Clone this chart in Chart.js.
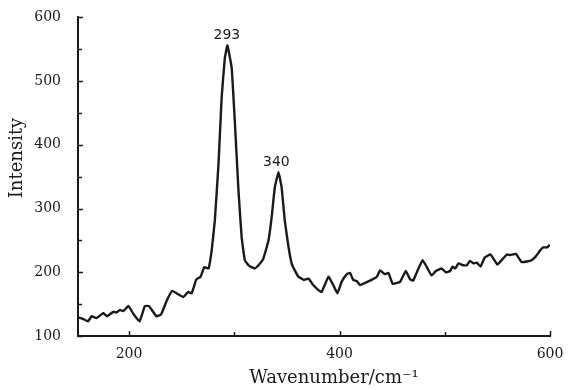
<!DOCTYPE html>
<html>
<head>
<meta charset="utf-8">
<script src="https://cdn.jsdelivr.net/npm/chart.js@4.4.1/dist/chart.umd.min.js"></script>
<style>
  html, body { margin: 0; padding: 0; background: #fff; }
  #wrap { width: 568px; height: 390px; }
</style>
</head>
<body>
<div id="wrap"><canvas id="ramanChart" width="568" height="390"></canvas></div>
<script>
// Raman spectrum
const wavenumbers = [
  151.5, 156, 161, 164.5, 169, 175.5, 179, 185, 188, 191.5, 194.5, 199.5,
  204, 210, 215, 219, 226, 230.5, 236, 241, 247, 251.5, 256, 259.5,
  264, 268, 271.5, 275.5, 278.5, 281.5, 285, 288, 291, 293.5, 297.5, 300.5,
  304, 307, 310, 313.5, 316.5, 319.5, 323, 327.5, 332.5, 335.5, 338.5, 342,
  345, 348, 351.5, 354.5, 357.5, 361, 364, 366, 370.5, 375, 380, 383,
  389.5, 394, 398, 402, 407, 410, 413, 416.5, 419.5, 424, 430.5, 435.5,
  438.5, 443, 446.5, 450.5, 457.5, 463, 467, 470, 475, 479, 483, 487.5,
  491.5, 497, 501, 505, 507.5, 510, 513, 517.5, 521, 524, 527, 530.5,
  534, 538, 543.5, 550, 554, 559, 562, 567.5, 573, 578, 582.5, 586.5,
  590.5, 593.5, 597, 600
];
const intensity = [
  129, 127, 123, 131, 128, 136, 131, 138, 137, 141, 139, 147,
  135, 123, 147, 147, 131, 134, 156, 171, 165, 161, 169, 167,
  189, 193, 208, 206, 234, 281, 370, 474, 536, 556, 521, 437,
  328, 255, 219, 211, 208, 206, 211, 221, 250, 286, 333, 357,
  333, 281, 240, 214, 203, 193, 190, 188, 190, 180, 172, 169,
  193, 180, 167, 185, 197, 199, 188, 186, 180, 183, 188, 193,
  203, 197, 199, 182, 185, 202, 189, 187, 206, 219, 208, 195,
  202, 206, 200, 202, 209, 206, 214, 211, 211, 218, 214, 215,
  209, 223, 228, 212, 219, 228, 227, 229, 216, 217, 219, 225,
  234, 239, 239, 243
];

const peakLabels = [293, 340];
const xMajorTicks = [200, 400, 600];
const xMinorTicks = [300, 500];
const yMajorTicks = [100, 200, 300, 400, 500, 600];
const yMinorTicks = [150, 250, 350, 450, 550];

const ink = '#1a1a1a';

// inward tick marks, axis titles and peak labels
const decorations = {
  id: 'decorations',
  afterDraw(chart) {
    const ctx = chart.ctx;
    const area = chart.chartArea;
    const xs = chart.scales.x;
    const ys = chart.scales.y;

    ctx.save();
    ctx.strokeStyle = ink;
    ctx.lineWidth = 1.5;
    ctx.beginPath();
    xMajorTicks.concat(xMinorTicks).forEach(v => {
      const px = Math.round(xs.getPixelForValue(v)) + 0.5;
      const len = xMajorTicks.includes(v) ? 5 : 4;
      ctx.moveTo(px, area.bottom);
      ctx.lineTo(px, area.bottom - len);
    });
    yMajorTicks.concat(yMinorTicks).forEach(v => {
      const py = Math.round(ys.getPixelForValue(v)) + 0.5;
      const len = yMajorTicks.includes(v) ? 5 : 4;
      ctx.moveTo(area.left, py);
      ctx.lineTo(area.left + len, py);
    });
    ctx.stroke();

    ctx.fillStyle = ink;

    // y title
    ctx.font = '18px "DejaVu Serif"';
    ctx.textAlign = 'center';
    ctx.textBaseline = 'middle';
    ctx.save();
    ctx.translate(17, 158);
    ctx.rotate(-Math.PI / 2);
    ctx.fillText('Intensity', 0, 0);
    ctx.restore();

    // x title
    ctx.textBaseline = 'alphabetic';
    ctx.fillText('Wavenumber/cm\u207B\u00B9', 334, 383);

    // peak labels
    ctx.font = '14px "DejaVu Sans"';
    ctx.textBaseline = 'bottom';
    peakLabels.forEach(p => {
      let top = 0;
      wavenumbers.forEach((w, i) => {
        if (Math.abs(w - p) <= 5 && intensity[i] > top) top = intensity[i];
      });
      ctx.fillText(String(p), xs.getPixelForValue(p), ys.getPixelForValue(top) - 3);
    });
    ctx.restore();
  }
};

const ctx = document.getElementById('ramanChart').getContext('2d');
new Chart(ctx, {
  type: 'line',
  data: {
    datasets: [{
      data: wavenumbers.map((w, i) => ({ x: w, y: intensity[i] })),
      borderColor: ink,
      borderWidth: 2.4,
      pointRadius: 0,
      fill: false,
      tension: 0.1
    }]
  },
  options: {
    responsive: false,
    animation: false,
    layout: { padding: { left: 0, right: 18, top: 17, bottom: 0 } },
    plugins: {
      legend: { display: false },
      tooltip: { enabled: false }
    },
    scales: {
      x: {
        type: 'linear',
        min: 151.5,
        max: 600,
        grid: { display: false },
        border: { display: true, color: ink, width: 2 },
        afterFit(scale) { scale.height = 54; },
        afterBuildTicks(scale) { scale.ticks = xMajorTicks.map(v => ({ value: v })); },
        ticks: {
          padding: 2,
          color: ink,
          font: { family: 'DejaVu Serif', size: 14 }
        }
      },
      y: {
        min: 100,
        max: 600,
        grid: { display: false },
        border: { display: true, color: ink, width: 2 },
        afterFit(scale) { scale.width = 78; },
        afterBuildTicks(scale) { scale.ticks = yMajorTicks.map(v => ({ value: v })); },
        ticks: {
          padding: 9,
          color: ink,
          font: { family: 'DejaVu Serif', size: 14 }
        }
      }
    }
  },
  plugins: [decorations]
});
</script>
</body>
</html>
